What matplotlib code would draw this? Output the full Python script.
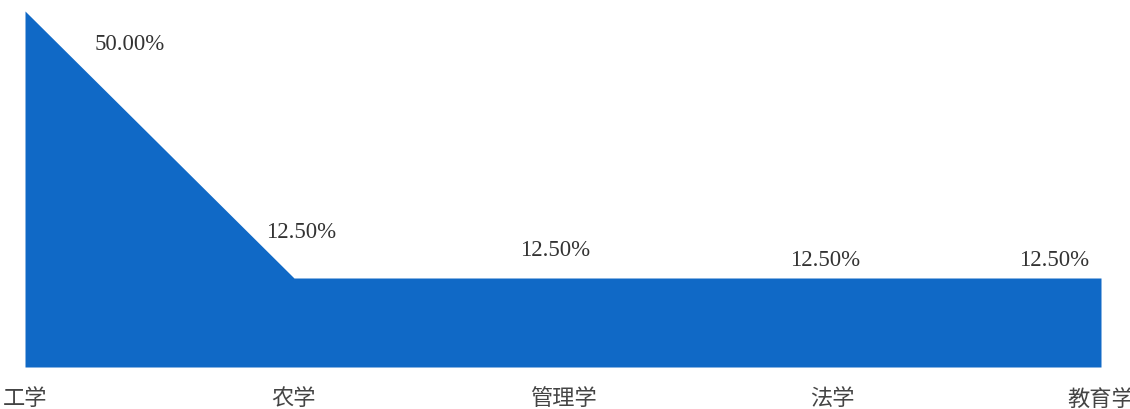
import matplotlib
matplotlib.use("Agg")
import matplotlib.pyplot as plt

plt.rcParams['font.family'] = ['Noto Sans CJK SC', 'DejaVu Sans']

categories = ["工学", "农学", "管理学", "法学", "教育学"]
values = [50.0, 12.5, 12.5, 12.5, 12.5]
labels = ["50.00%", "12.50%", "12.50%", "12.50%", "12.50%"]
# label offsets (pixels) from each point
offsets = [(105, -32), (7, 46), (-8, 28), (-7, 18), (-47, 18)]

fig = plt.figure(figsize=(11.3, 4.1), dpi=100)
ax = fig.add_axes([25 / 1130, 42 / 410, 1076 / 1130, 356 / 410])

x = list(range(len(categories)))
ax.fill_between(x, 0, values, color="#1069c6", linewidth=0)

for xi, v, lab, (dx, dy) in zip(x, values, labels, offsets):
    ax.annotate(lab, (xi, v), xytext=(dx, dy), textcoords="offset pixels",
                ha="center", va="center", fontsize=16.5, color="#333333",
                family="Liberation Serif", annotation_clip=False)

ax.set_xlim(0, len(categories) - 1)
ax.set_ylim(0, 50)
ax.set_xticks(x)
ax.set_xticklabels(categories, fontsize=16, color="#444444")
ax.tick_params(axis="x", length=0, pad=14)
ax.set_yticks([])
for s in ax.spines.values():
    s.set_visible(False)

fig.savefig("out.png", dpi=100)
